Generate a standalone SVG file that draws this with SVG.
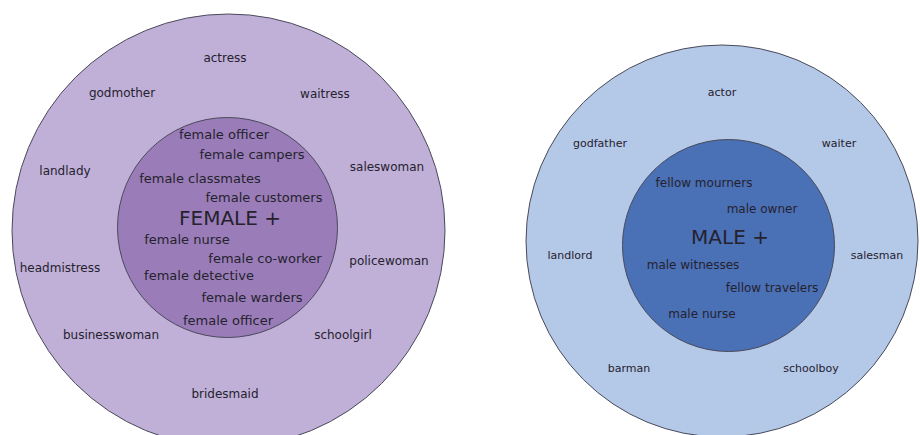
<svg xmlns="http://www.w3.org/2000/svg" width="920" height="435" viewBox="0 0 920 435">
<style>
text{font-family:"DejaVu Sans","Noto Sans",sans-serif;fill:#25222e;text-anchor:middle}
.ring{stroke:#4a4a5a;stroke-width:1}
.lo{font-size:12px}
.li{font-size:13px}
.ro{font-size:11px}
.ri{font-size:12px}
.big{font-size:20px}
</style>
<rect width="920" height="435" fill="#ffffff"/>
<g id="female-outer">
<circle class="ring" cx="228.5" cy="230.5" r="216.5" fill="#c0b0d8"/>
<text class="lo" x="225" y="62">actress</text>
<text class="lo" x="122" y="97">godmother</text>
<text class="lo" x="325" y="98">waitress</text>
<text class="lo" x="65" y="175">landlady</text>
<text class="lo" x="387" y="171">saleswoman</text>
<text class="lo" x="60" y="272">headmistress</text>
<text class="lo" x="389" y="265">policewoman</text>
<text class="lo" x="111" y="339">businesswoman</text>
<text class="lo" x="343" y="339">schoolgirl</text>
<text class="lo" x="225" y="398">bridesmaid</text>
</g>
<g id="female-inner">
<circle class="ring" cx="227.5" cy="227.5" r="110" fill="#9a7db8"/>
<text class="li" x="224" y="139">female officer</text>
<text class="li" x="252" y="159">female campers</text>
<text class="li" x="200" y="183">female classmates</text>
<text class="li" x="264" y="202">female customers</text>
<text class="big" x="230" y="225">FEMALE +</text>
<text class="li" x="187" y="244">female nurse</text>
<text class="li" x="265" y="263">female co-worker</text>
<text class="li" x="199" y="280">female detective</text>
<text class="li" x="252" y="302">female warders</text>
<text class="li" x="228" y="325">female officer</text>
</g>
<g id="male-outer">
<circle class="ring" cx="722" cy="241" r="196" fill="#b4c8e8"/>
<text class="ro" x="722" y="96">actor</text>
<text class="ro" x="600" y="147">godfather</text>
<text class="ro" x="839" y="147">waiter</text>
<text class="ro" x="570" y="259">landlord</text>
<text class="ro" x="877" y="259">salesman</text>
<text class="ro" x="629" y="372">barman</text>
<text class="ro" x="811" y="372">schoolboy</text>
</g>
<g id="male-inner">
<circle class="ring" cx="728.5" cy="245.5" r="106" fill="#4a70b6"/>
<text class="ri" x="704" y="187">fellow mourners</text>
<text class="ri" x="762" y="213">male owner</text>
<text class="big" x="730" y="244">MALE +</text>
<text class="ri" x="693" y="269">male witnesses</text>
<text class="ri" x="772" y="292">fellow travelers</text>
<text class="ri" x="702" y="318">male nurse</text>
</g>
<g id="connectors"></g>
</svg>
